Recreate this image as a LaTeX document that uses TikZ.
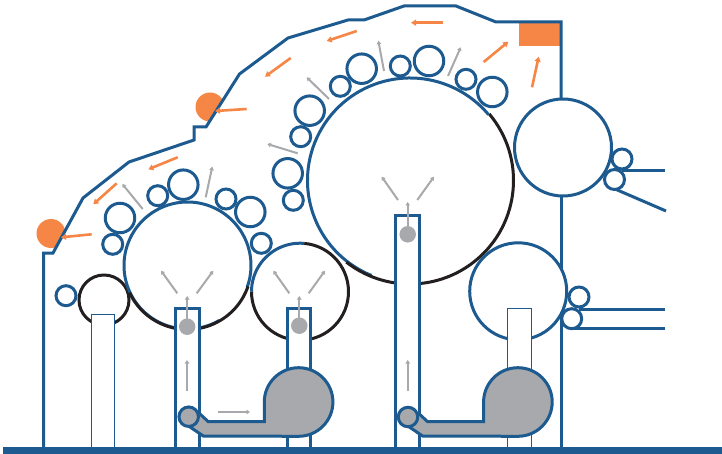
\documentclass[tikz,border=0pt]{standalone}
\usetikzlibrary{arrows.meta}
\definecolor{mblue}{HTML}{1C5A8F}
\definecolor{mblack}{HTML}{231F20}
\definecolor{mgray}{HTML}{A7A9AC}
\definecolor{morange}{HTML}{F58646}
\tikzset{
  line/.style={draw=mblue,line width=3pt,line join=miter},
  thin line/.style={draw=mblue,line width=1pt,fill=white},
  blackarc/.style={draw=mblack,line width=3pt},
  roll/.style={circle,draw=mblue,fill=white,line width=3pt,inner sep=0pt,outer sep=0pt},
  rollL/.style={roll,minimum size=29.5pt},
  rollS/.style={roll,minimum size=20pt},
  cyl/.style={line,fill=white},
  duct/.style={line,fill=mgray},
  dot/.style={circle,fill=mgray,inner sep=0pt,minimum size=16.5pt},
  garrow/.style={draw=mgray,line width=2pt,-{Triangle[length=3.5pt,width=4.5pt]}},
  oarrow/.style={draw=morange,line width=2.6pt,-{Triangle[length=5pt,width=6pt]}},
}
\begin{document}
\begin{tikzpicture}[x=1pt,y=1pt,yscale=-1]
\useasboundingbox (0,0) rectangle (722,454);
% orange feed discs behind the casing
\fill[morange] (51,233.5) circle[radius=14.5];
\fill[morange] (210,107) circle[radius=14.5];
% casing
\path[fill=white] (43.5,447) -- (43.5,253) -- (53,253) -- (83,198) -- (129,162) -- (194,140) -- (194,127) -- (206,127) -- (239.5,74) -- (288,38) -- (348,20) -- (364,20) -- (404,6) -- (456,6) -- (496,22) -- (561,22) -- (561,447) -- cycle;
\fill[morange] (519,23) rectangle (560,46);
\draw[line] (43.5,447) -- (43.5,253) -- (53,253) -- (83,198) -- (129,162) -- (194,140) -- (194,127) -- (206,127) -- (239.5,74) -- (288,38) -- (348,20) -- (364,20) -- (404,6) -- (456,6) -- (496,22) -- (561,22) -- (561,110);
\draw[line] (561,190) -- (561,447);
% exit lines
\draw[line] (622,171) -- (665,171);
\draw[line] (615,189) -- (666,211);
\draw[line] (579,309) -- (665,309);
\draw[line] (572,328) -- (665,328);
% small rollers around cylinder 1
\node[rollL] (a1) at (120,218) {};
\node[rollS] (a2) at (112.7,244.3) {};
\node[rollS] (a3) at (157.7,195.7) {};
\node[rollL] (a4) at (183.3,184.7) {};
\node[rollS] (a5) at (226,199) {};
\node[rollL] (a6) at (250.3,212) {};
\node[rollS] (a7) at (261.3,243.3) {};
\node[rollS] (a8) at (66,295.7) {};
% rollers around main cylinder
\node[rollL] (b1) at (287.7,173.3) {};
\node[rollS] (b2) at (293.3,200.3) {};
\node[rollS] (b3) at (300.7,136.7) {};
\node[rollL] (b4) at (309.7,110.7) {};
\node[rollS] (b5) at (340.3,86.3) {};
\node[rollL] (b6) at (361.7,68.7) {};
\node[rollS] (b7) at (400.3,66) {};
\node[rollL] (b8) at (429,61) {};
\node[rollS] (b9) at (466,79.3) {};
\node[rollL] (b10) at (492.3,92) {};
% small black roller
\draw[blackarc,fill=white] (104,300) circle[radius=25];
% cylinder 1
\fill[white] (187.5,265.5) circle[radius=64];
\draw[line] (187.5,265.5) ++(60:63.5) arc[start angle=60,end angle=380,radius=63.5];
\draw[blackarc] (187.5,265.5) ++(19:64) arc[start angle=19,end angle=155,radius=64];
% cylinder 2
\fill[white] (300,291.7) circle[radius=48.5];
\draw[line] (300,291.7) ++(180:48.5) arc[start angle=180,end angle=275,radius=48.5];
\draw[blackarc] (300,291.7) ++(275:48.5) arc[start angle=275,end angle=540,radius=48.5];
% main cylinder
\fill[white] (410,180.5) circle[radius=103];
\draw[line] (410,180.5) ++(112:102.5) arc[start angle=112,end angle=320,radius=102.5];
\draw[blackarc] (410,180.5) ++(320:103.5) arc[start angle=320,end angle=488,radius=103.5];
% right cylinders
\node[roll,minimum size=97pt] (c1) at (563,147.5) {};
\node[rollS] (c2) at (622,159) {};
\node[rollS] (c3) at (614.5,179.5) {};
\node[roll,minimum size=97pt] (d1) at (518.2,291.3) {};
\node[rollS] (d2) at (579,297) {};
\node[rollS] (d3) at (571.7,318.7) {};
% white pedestals
\draw[thin line] (91,447) -- (91,314.5) -- (114.5,314.5) -- (114.5,447);
\draw[thin line] (507.7,447) -- (507.7,308.5) -- (531,308.5) -- (531,447);
% shafts
\draw[cyl] (175.7,447) -- (175.7,308.5) -- (199,308.5) -- (199,447);
\draw[cyl] (287.3,447) -- (287.3,308.5) -- (310.7,308.5) -- (310.7,447);
\draw[cyl] (395.7,447) -- (395.7,215.5) -- (419,215.5) -- (419,447);
% ducts
\draw[duct] (200,414) -- (208.3,421.7) -- (264.3,421.7) -- (264.3,402) arc[start angle=180,end angle=450,radius=34.3] -- (203.3,436) -- (190,427);
\node[roll,fill=mgray,minimum size=19.5pt] (e1) at (188.7,416.7) {};
\draw[duct] (419.3,414) -- (427.6,421.7) -- (483.6,421.7) -- (483.6,402) arc[start angle=180,end angle=450,radius=34.3] -- (422.6,436) -- (409.3,427);
\node[roll,fill=mgray,minimum size=19.5pt] (e2) at (408,417) {};
% base
\fill[mblue] (3,446.7) rectangle (722,453.5);
% gray dots
\node[dot] (g1) at (187.2,326.7) {};
\node[dot] (g2) at (299.3,325.7) {};
\node[dot] (g3) at (407.7,234.3) {};
% gray arrows
\draw[garrow] (g1.center) -- (187.2,296);
\draw[garrow] (g2.center) -- (299.3,296);
\draw[garrow] (g3.center) -- (407.7,202);
\draw[garrow] (177.3,293.3) -- (161,270.7);
\draw[garrow] (196.7,293.3) -- (213.3,270.7);
\draw[garrow] (289.3,293.3) -- (273.3,270.7);
\draw[garrow] (308.7,293.3) -- (325,270.7);
\draw[garrow] (398,200) -- (381.7,176.7);
\draw[garrow] (417.3,200) -- (434,176.7);
\draw[garrow] (187,391) -- (187,360);
\draw[garrow] (407.7,391) -- (407.7,360);
\draw[garrow] (217.7,412) -- (250,412);
\draw[garrow] (142.7,209) -- (122.3,184);
\draw[garrow] (205.7,197.3) -- (212.3,166.7);
\draw[garrow] (297.7,153.3) -- (267.3,144);
\draw[garrow] (329,99) -- (306.7,77.3);
\draw[garrow] (384,71) -- (378.3,40.7);
\draw[garrow] (448,76) -- (460.7,47.3);
% orange arrows
\draw[oarrow] (177.7,157.3) -- (148.3,169.3);
\draw[oarrow] (116.7,183.3) -- (93.3,204.3);
\draw[oarrow] (91.7,234.3) -- (61,237.3);
\draw[oarrow] (290.7,58) -- (265,76.7);
\draw[oarrow] (356.7,31) -- (326.7,41);
\draw[oarrow] (442.7,22.7) -- (411,22.7);
\draw[oarrow] (483.7,62) -- (508.3,41.7);
\draw[oarrow] (532,87.3) -- (538.7,56.7);
\draw[oarrow] (246.7,109) -- (215,111);
\end{tikzpicture}
\end{document}
